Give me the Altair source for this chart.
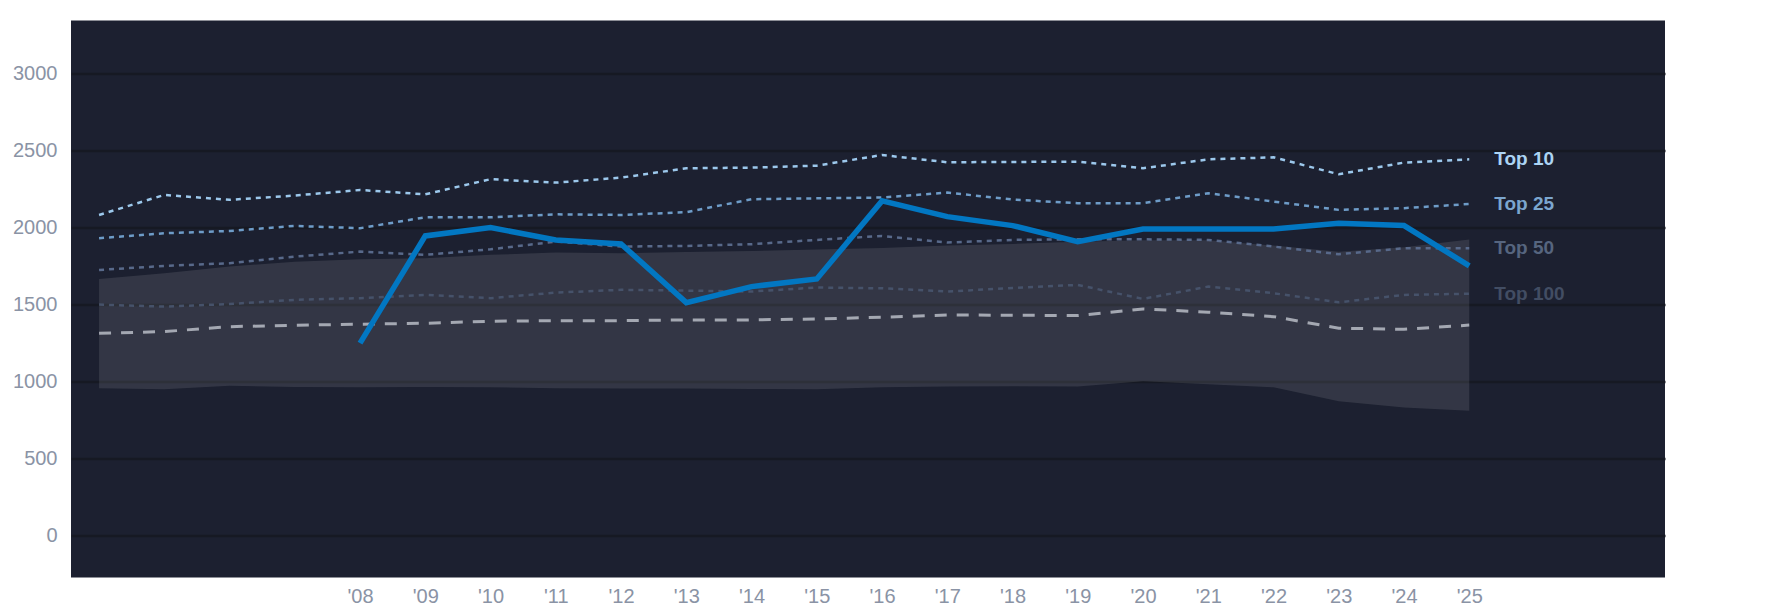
import altair as alt
import pandas as pd

years = list(range(2004, 2026))
top10 = [2079, 2209, 2177, 2205, 2241, 2213, 2311, 2289, 2321, 2382, 2386, 2399,
         2468, 2421, 2423, 2425, 2382, 2440, 2453, 2343, 2419, 2440]
top25 = [1928, 1960, 1975, 2008, 1993, 2064, 2064, 2083, 2079, 2097, 2181, 2187,
         2192, 2224, 2179, 2155, 2155, 2220, 2166, 2112, 2123, 2150]
top50 = [1722, 1748, 1766, 1809, 1841, 1820, 1856, 1906, 1874, 1878, 1889, 1917,
         1943, 1900, 1917, 1921, 1921, 1917, 1874, 1824, 1863, 1863]
top100 = [1497, 1484, 1501, 1528, 1539, 1560, 1539, 1575, 1593, 1588, 1582, 1608,
          1603, 1582, 1605, 1625, 1534, 1614, 1571, 1512, 1560, 1568]
median = [1311, 1322, 1354, 1363, 1370, 1376, 1389, 1393, 1393, 1398, 1398, 1404,
          1415, 1430, 1428, 1426, 1469, 1448, 1419, 1344, 1337, 1364]
band_hi = [1664, 1701, 1744, 1776, 1792, 1798, 1820, 1835, 1831, 1838, 1845, 1855,
           1865, 1880, 1891, 1905, 1915, 1915, 1880, 1840, 1870, 1920]
band_lo = [955, 948, 970, 962, 960, 962, 960, 955, 952, 952, 950, 948,
           960, 965, 968, 965, 1000, 980, 960, 870, 830, 808]
main_years = list(range(2008, 2026))
main_vals = [1247, 1943, 1997, 1917, 1891, 1510, 1614, 1664, 2170, 2068, 2010, 1906,
             1988, 1988, 1988, 2025, 2010, 1749]

label_names = ["Top 10", "Top 25", "Top 50", "Top 100"]
label_vals = [top10[-1], top25[-1], top50[-1], top100[-1]]
label_colors = ["#acd4f4", "#7ba6cf", "#56657f", "#424d63"]

x_ticks = list(range(2008, 2026))
y_ticks = [0, 500, 1000, 1500, 2000, 2500, 3000]

df = pd.DataFrame({
    "year": years, "top10": top10, "top25": top25, "top50": top50,
    "top100": top100, "median": median, "lo": band_lo, "hi": band_hi,
})
df_main = pd.DataFrame({"year": main_years, "v": main_vals})
df_lab = pd.DataFrame({"year": [2025] * 4, "v": label_vals, "name": label_names})

AXIS_COLOR = "#8a93a5"
FONT = "Liberation Sans"

xs = alt.Scale(domain=[2003.57, 2028], nice=False, zero=False)
ys = alt.Scale(domain=[-274, 3341], nice=False, zero=False)
x_axis = alt.Axis(values=x_ticks, labelExpr="\"'\" + substring(toString(datum.value), 2)",
                  grid=False, domain=False, ticks=False, labelFontSize=20,
                  labelColor=AXIS_COLOR, labelPadding=9, title=None, labelFont=FONT)
y_axis = alt.Axis(values=y_ticks, format="d", grid=True, gridColor="#161923", gridWidth=2.5,
                  domain=False, ticks=False, labelFontSize=20, labelColor=AXIS_COLOR,
                  labelPadding=14, title=None, labelFont=FONT)


def X():
    return alt.X("year:Q", scale=xs, axis=x_axis)


def Y(field):
    return alt.Y(f"{field}:Q", scale=ys, axis=y_axis)


band = alt.Chart(df).mark_area(color="white", opacity=0.1).encode(
    x=X(), y=Y("lo"), y2="hi:Q")


def dline(field, color, dash, width):
    return alt.Chart(df).mark_line(color=color, strokeDash=dash, strokeWidth=width).encode(
        x=X(), y=Y(field))


l100 = dline("top100", "#46526a", [5, 5], 2.5)
l50 = dline("top50", "#58698a", [5, 5], 2.5)
l25 = dline("top25", "#6e9cc8", [5, 5], 2.5)
l10 = dline("top10", "#9cc8ec", [5, 5], 2.5)
lmed = dline("median", "#a4a8b2", [12, 10], 3)

main = alt.Chart(df_main).mark_line(color="#0277c2", strokeWidth=5.5).encode(
    x=X(), y=Y("v"))

labels = alt.Chart(df_lab).mark_text(align="left", baseline="middle", dx=25,
                                     fontSize=19, fontWeight="bold", font=FONT).encode(
    x=X(), y=Y("v"),
    color=alt.Color("name:N", scale=alt.Scale(domain=label_names, range=label_colors),
                    legend=None),
    text="name:N")

chart = alt.layer(band, l100, l50, l25, l10, lmed, main, labels).properties(
    width=1594, height=557,
    padding={"left": 63, "top": 12.5, "right": 112, "bottom": 30},
    autosize=alt.AutoSizeParams(type="none"),
    background="white",
).configure_view(fill="#1c2030", stroke=None)

chart.save("out.html", embed_options={"renderer": "svg", "actions": False})
